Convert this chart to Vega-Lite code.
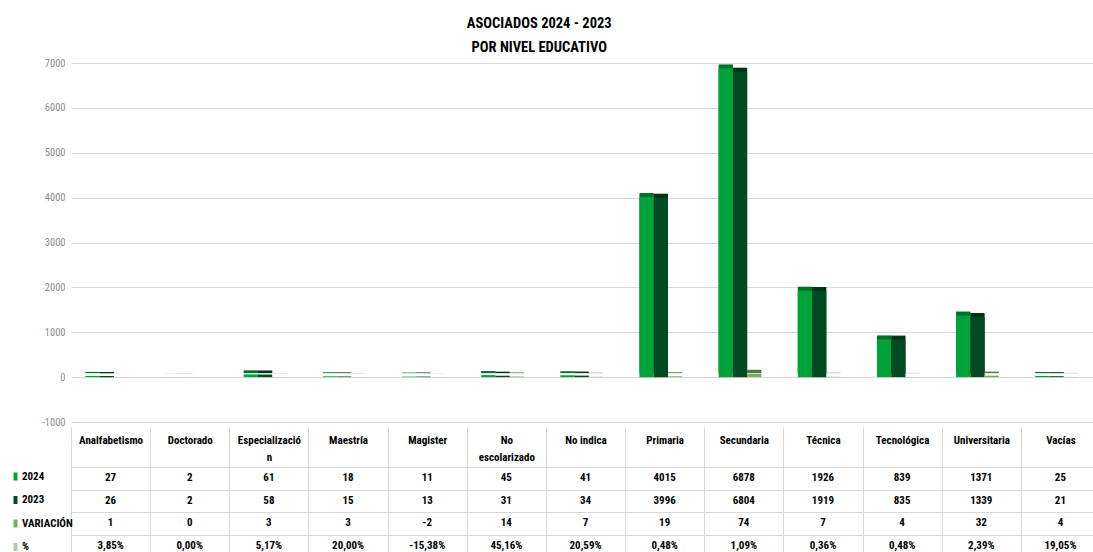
{
  "$schema": "https://vega.github.io/schema/vega-lite/v6.json",
  "background": "white",
  "padding": {"left": 10, "top": 15, "right": 0, "bottom": 0},
  "title": {
    "text": ["ASOCIADOS 2024 - 2023", "POR NIVEL EDUCATIVO"],
    "anchor": "middle",
    "dx": -16,
    "fontSize": 14.5,
    "fontWeight": "bold",
    "font": "Liberation Sans Narrow, Roboto Condensed, Roboto, sans-serif",
    "color": "#000000",
    "lineHeight": 24,
    "offset": 3
  },
  "datasets": {
    "d": [
      {"cat": "Analfabetismo", "serie": "2024", "value": 27},
      {"cat": "Analfabetismo", "serie": "2023", "value": 26},
      {"cat": "Analfabetismo", "serie": "VARIACIÓN", "value": 1},
      {"cat": "Analfabetismo", "serie": "%", "value": 0.0385},
      {"cat": "Doctorado", "serie": "2024", "value": 2},
      {"cat": "Doctorado", "serie": "2023", "value": 2},
      {"cat": "Doctorado", "serie": "VARIACIÓN", "value": 0},
      {"cat": "Doctorado", "serie": "%", "value": 0},
      {"cat": "Especialización", "serie": "2024", "value": 61},
      {"cat": "Especialización", "serie": "2023", "value": 58},
      {"cat": "Especialización", "serie": "VARIACIÓN", "value": 3},
      {"cat": "Especialización", "serie": "%", "value": 0.0517},
      {"cat": "Maestría", "serie": "2024", "value": 18},
      {"cat": "Maestría", "serie": "2023", "value": 15},
      {"cat": "Maestría", "serie": "VARIACIÓN", "value": 3},
      {"cat": "Maestría", "serie": "%", "value": 0.2},
      {"cat": "Magister", "serie": "2024", "value": 11},
      {"cat": "Magister", "serie": "2023", "value": 13},
      {"cat": "Magister", "serie": "VARIACIÓN", "value": -2},
      {"cat": "Magister", "serie": "%", "value": -0.1538},
      {"cat": "No escolarizado", "serie": "2024", "value": 45},
      {"cat": "No escolarizado", "serie": "2023", "value": 31},
      {"cat": "No escolarizado", "serie": "VARIACIÓN", "value": 14},
      {"cat": "No escolarizado", "serie": "%", "value": 0.4516},
      {"cat": "No indica", "serie": "2024", "value": 41},
      {"cat": "No indica", "serie": "2023", "value": 34},
      {"cat": "No indica", "serie": "VARIACIÓN", "value": 7},
      {"cat": "No indica", "serie": "%", "value": 0.2059},
      {"cat": "Primaria", "serie": "2024", "value": 4015},
      {"cat": "Primaria", "serie": "2023", "value": 3996},
      {"cat": "Primaria", "serie": "VARIACIÓN", "value": 19},
      {"cat": "Primaria", "serie": "%", "value": 0.0048},
      {"cat": "Secundaria", "serie": "2024", "value": 6878},
      {"cat": "Secundaria", "serie": "2023", "value": 6804},
      {"cat": "Secundaria", "serie": "VARIACIÓN", "value": 74},
      {"cat": "Secundaria", "serie": "%", "value": 0.0109},
      {"cat": "Técnica", "serie": "2024", "value": 1926},
      {"cat": "Técnica", "serie": "2023", "value": 1919},
      {"cat": "Técnica", "serie": "VARIACIÓN", "value": 7},
      {"cat": "Técnica", "serie": "%", "value": 0.0036},
      {"cat": "Tecnológica", "serie": "2024", "value": 839},
      {"cat": "Tecnológica", "serie": "2023", "value": 835},
      {"cat": "Tecnológica", "serie": "VARIACIÓN", "value": 4},
      {"cat": "Tecnológica", "serie": "%", "value": 0.0048},
      {"cat": "Universitaria", "serie": "2024", "value": 1371},
      {"cat": "Universitaria", "serie": "2023", "value": 1339},
      {"cat": "Universitaria", "serie": "VARIACIÓN", "value": 32},
      {"cat": "Universitaria", "serie": "%", "value": 0.0239},
      {"cat": "Vacías", "serie": "2024", "value": 25},
      {"cat": "Vacías", "serie": "2023", "value": 21},
      {"cat": "Vacías", "serie": "VARIACIÓN", "value": 4},
      {"cat": "Vacías", "serie": "%", "value": 0.1905}
    ]
  },
  "data": {"name": "d"},
  "spacing": 45,
  "bounds": "flush",
  "resolve": {"scale": {"x": "independent"}},
  "vconcat": [
    {
      "width": 1029,
      "height": 359,
      "encoding": {
        "x": {
          "field": "cat",
          "type": "nominal",
          "sort": null,
          "scale": {"paddingInner": 0.28, "paddingOuter": 0.14, "align": 0.65},
          "axis": null
        },
        "xOffset": {
          "field": "serie",
          "type": "nominal",
          "sort": ["2024", "2023", "VARIACIÓN", "%"],
          "scale": {"paddingInner": 0, "paddingOuter": 0}
        },
        "y": {
          "field": "value",
          "type": "quantitative",
          "scale": {"domain": [-1000, 7000], "nice": false},
          "axis": {
            "title": null,
            "values": [-1000, 0, 1000, 2000, 3000, 4000, 5000, 6000, 7000],
            "format": "d",
            "domain": false,
            "ticks": false,
            "labelPadding": 6,
            "labelColor": "#8c8c8c",
            "labelFontSize": 10.5,
            "labelFont": "Liberation Sans Narrow, Roboto Condensed, Roboto, sans-serif",
            "gridColor": "#d9d9d9",
            "gridWidth": 1
          }
        }
      },
      "layer": [
        {
          "mark": {"type": "bar", "xOffset": 4, "yOffset": -4},
          "encoding": {
            "color": {
              "field": "serie",
              "type": "nominal",
              "scale": {
                "domain": ["2024", "2023", "VARIACIÓN", "%"],
                "range": ["#00A33A", "#004B23", "#7DA86A", "#B3C8AB"]
              },
              "legend": {
                "orient": "none",
                "legendX": -61,
                "legendY": 408,
                "direction": "vertical",
                "title": null,
                "symbolType": "M-0.5,-1H0.5V1H-0.5Z",
                "symbolSize": 64,
                "symbolStrokeWidth": 0,
                "labelFontSize": 11,
                "labelFontWeight": "bold",
                "labelColor": "#000000",
                "labelFont": "Liberation Sans Narrow, Roboto Condensed, Roboto, sans-serif",
                "labelOffset": 1,
                "rowPadding": 11.5,
                "padding": 0
              }
            }
          }
        },
        {
          "mark": {"type": "bar", "xOffset": 4, "yOffset": -4, "color": "#000000", "opacity": 0.3},
          "encoding": {}
        },
        {
          "mark": {"type": "bar"},
          "encoding": {
            "color": {"field": "serie", "type": "nominal"}
          }
        }
      ]
    },
    {
      "width": 1029,
      "height": 90,
      "encoding": {
        "x": {
          "field": "cat",
          "type": "nominal",
          "sort": null,
          "scale": {"paddingInner": 0, "paddingOuter": 0},
          "axis": {
            "orient": "top",
            "title": null,
            "domain": false,
            "tickBand": "extent",
            "ticks": true,
            "tickSize": 40,
            "tickColor": "#d9d9d9",
            "grid": true,
            "gridColor": "#d9d9d9",
            "labelAngle": 0,
            "labelBaseline": "top",
            "labelPadding": -7,
            "labelLineHeight": 17,
            "labelFontSize": 11,
            "labelFontWeight": "bold",
            "labelColor": "#000000",
            "labelFont": "Liberation Sans Narrow, Roboto Condensed, Roboto, sans-serif",
            "labelExpr": "datum.label == 'Especialización' ? ['Especializació', 'n'] : datum.label == 'No escolarizado' ? ['No', 'escolarizado'] : datum.label"
          }
        },
        "y": {
          "field": "serie",
          "type": "nominal",
          "sort": ["2024", "2023", "VARIACIÓN", "%"],
          "scale": {"paddingInner": 0, "paddingOuter": 0},
          "axis": {
            "title": null,
            "labels": false,
            "ticks": false,
            "domain": false,
            "tickBand": "extent",
            "grid": true,
            "gridColor": "#d9d9d9"
          }
        }
      },
      "layer": [
        {
          "transform": [{"filter": "datum.serie != '%'"}],
          "mark": {"type": "text", "fontSize": 11, "fontWeight": "bold", "color": "#000000", "font": "Liberation Sans Narrow, Roboto Condensed, Roboto, sans-serif"},
          "encoding": {"text": {"field": "value", "type": "quantitative", "format": "d"}}
        },
        {
          "transform": [{"filter": "datum.serie == '%'"}],
          "mark": {"type": "text", "fontSize": 11, "fontWeight": "bold", "color": "#000000", "font": "Liberation Sans Narrow, Roboto Condensed, Roboto, sans-serif"},
          "encoding": {"text": {"field": "value", "type": "quantitative", "format": ".2%"}}
        }
      ]
    }
  ],
  "config": {
    "view": {"stroke": null},
    "locale": {
      "number": {"decimal": ",", "thousands": ".", "grouping": [3], "currency": ["", " €"], "minus": "-"}
    }
  }
}
